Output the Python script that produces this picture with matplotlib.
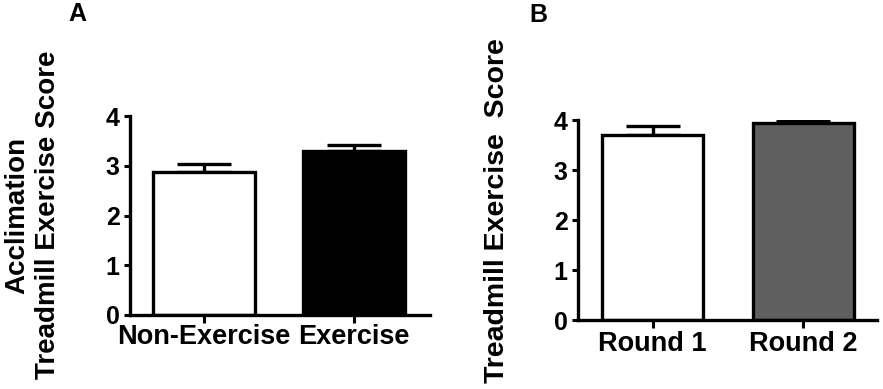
import matplotlib
matplotlib.use("Agg")
import matplotlib.pyplot as plt

plt.rcParams['font.family'] = ['Liberation Sans', 'DejaVu Sans']
plt.rcParams['font.weight'] = 'bold'

# Panel A data
a_categories = ["Non-Exercise", "Exercise"]
a_values = [2.88, 3.30]
a_errors = [0.16, 0.11]
a_colors = ["white", "black"]

# Panel B data
b_categories = ["Round 1", "Round 2"]
b_values = [3.70, 3.95]
b_errors = [0.18, 0.04]
b_colors = ["white", "#5f5f5f"]

y_ticks = [0, 1, 2, 3, 4]

fig = plt.figure(figsize=(8.83, 3.89), dpi=100)
axA = fig.add_axes([130/883, 74/389, 300/883, 199/389])
axB = fig.add_axes([578/883, 69/389, 299/883, 200/389])

def draw(ax, cats, vals, errs, colors, xlim, width, xpad):
    x = list(range(len(cats)))
    ax.errorbar(x, vals, yerr=[[0]*len(errs), errs], fmt='none', ecolor='black',
                elinewidth=2.4, capsize=19.5, capthick=2.4, zorder=1)
    ax.bar(x, vals, width=width, color=colors, edgecolor='black', linewidth=2.4, zorder=2)
    ax.set_xlim(*xlim)
    ax.set_ylim(0, 4)
    ax.set_yticks(y_ticks)
    ax.set_xticks(x)
    ax.set_xticklabels(cats, fontsize=19.5, fontweight='bold')
    ax.set_yticklabels([str(t) for t in y_ticks], fontsize=18, fontweight='bold')
    for s in ['top', 'right']:
        ax.spines[s].set_visible(False)
    for s in ['left', 'bottom']:
        ax.spines[s].set_linewidth(2.4)
    ax.tick_params(axis='y', length=4.5, width=2.2, pad=3)
    ax.tick_params(axis='x', length=6, width=2.2, pad=xpad)

draw(axA, a_categories, a_values, a_errors, a_colors, (-0.493, 1.507), 0.68, 0.5)
draw(axB, b_categories, b_values, b_errors, b_colors, (-0.495, 1.49), 0.67, 2)

fig.text(33/883, 1 - 215/389, "Acclimation\nTreadmill Exercise Score", rotation=90,
         ha='center', va='center', fontsize=20, fontweight='bold', linespacing=1.25)
fig.text(497/883, 1 - 211/389, "Treadmill Exercise  Score", rotation=90,
         ha='center', va='center', fontsize=20.5, fontweight='bold')

fig.text(77/883, 1 - 14/389, "A", ha='center', va='center', fontsize=18, fontweight='bold')
fig.text(538/883, 1 - 15/389, "B", ha='center', va='center', fontsize=18, fontweight='bold')

fig.savefig("out.png", dpi=100)
